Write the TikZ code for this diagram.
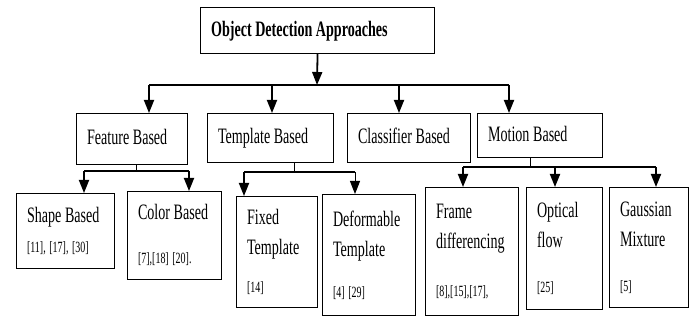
\documentclass[tikz,border=0pt]{standalone}
\usepackage{fontspec}
\setmainfont[FakeStretch=0.64]{Liberation Serif}
\usetikzlibrary{arrows.meta}
\newcommand{\refsz}{\fontsize{15.6}{30}\selectfont}
\newcommand{\boxfont}{\fontsize{22}{30}\selectfont}

\begin{document}
\begin{tikzpicture}
[every node/.style={inner ysep=0pt, inner xsep=10.5pt},
 box/.style={draw=black, line width=1.1pt, anchor=north west, align=flush left, font=\boxfont,
   execute at begin node={\spaceskip=3.6pt plus 1pt\relax}},
 oneline/.style={text height=15pt, text depth=4pt},
 arw/.style={line width=1.8pt, -{Triangle[width=10pt,length=13pt]}, color=black},
 bus/.style={line width=1.8pt, color=black},
 subbus/.style={line width=1.3pt, color=black},
 stem/.style={line width=0.8pt, color=black}]
\useasboundingbox (0pt,0pt) rectangle (697pt,-320pt);
% top level
\node (root) [box, oneline, text width=213pt, minimum height=46pt] at (200pt, -7pt) {\bfseries Object Detection Approaches};
% second level
\node (feat) [box, oneline, text width=90pt, minimum height=51pt] at (76pt, -113pt) {Feature Based};
\node (tmpl) [box, oneline, text width=105pt, minimum height=49pt] at (207pt, -113pt) {Template Based};
\node (clsf) [box, oneline, text width=102pt, minimum height=49pt] at (347pt, -113pt) {Classifier Based};
\node (motn) [box, oneline, text width=104pt, minimum height=44pt] at (477pt, -113pt) {Motion Based};
% third level
\node (shape) [box, text width=77pt, minimum height=75pt] at (16pt, -193pt) {Shape Based\\{\refsz [11], [17], [30]}};
\node (color) [box, text width=73pt, minimum height=88pt] at (127pt, -191pt) {Color Based\\[14pt]{\refsz [7],[18] [20].}};
\node (fixed) [box, text width=60pt, minimum height=111pt] at (236pt, -196pt) {Fixed\\Template\\[8pt]{\refsz [14]}};
\node (deform) [box, text width=72pt, minimum height=121pt] at (322pt, -194pt) {Deformable\\Template\\[11pt]{\refsz [4] [29]}};
\node (frame) [box, text width=72pt, minimum height=128pt] at (425pt, -187pt) {Frame\\differencing\\[18pt]{\refsz [8],[15],[17],}};
\node (optic) [box, text width=55pt, minimum height=122pt] at (526pt, -187pt) {Optical\\flow\\[15pt]{\refsz [25]}};
\node (gauss) [box, text width=58pt, minimum height=120pt] at (609pt, -187pt) {Gaussian\\Mixture\\[15pt]{\refsz [5]}};

% junctions
\coordinate (hub) at (317pt, -85pt);
\coordinate (b1) at (149pt, -85pt);
\coordinate (b2) at (272pt, -85pt);
\coordinate (b3) at (399pt, -85pt);
\coordinate (b4) at (509pt, -85pt);
\coordinate (fs) at (136pt, -171pt);
\coordinate (fa) at (84pt, -171pt);
\coordinate (fb) at (189pt, -171pt);
\coordinate (ts) at (294pt, -172pt);
\coordinate (ta) at (244pt, -172pt);
\coordinate (tb) at (355pt, -172pt);
\coordinate (ms) at (530pt, -167pt);
\coordinate (ma) at (463pt, -167pt);
\coordinate (mb) at (555pt, -167pt);
\coordinate (mc) at (656pt, -167pt);

\draw [arw] (root.south) to (hub);
\draw [bus] (b1) to (b4);
\draw [arw] (b1) to (b1 |- feat.north);
\draw [arw] (b2) to (b2 |- tmpl.north);
\draw [arw] (b3) to (b3 |- clsf.north);
\draw [arw] (b4) to (b4 |- motn.north);

\draw [stem] (feat.south -| fs) to (fs);
\draw [subbus] (fa) to (fb);
\draw [arw] (fa) to (fa |- shape.north);
\draw [arw] (fb) to (fb |- color.north);

\draw [stem] (tmpl.south -| ts) to (ts);
\draw [subbus] (ta) to (tb);
\draw [arw] (ta) to (ta |- fixed.north);
\draw [arw, line width=1pt] (tb) to (tb |- deform.north);

\draw [stem] (motn.south -| ms) to (ms);
\draw [bus] (ma) to (mc);
\draw [arw] (ma) to (ma |- frame.north);
\draw [arw] (mb) to (mb |- optic.north);
\draw [arw] (mc) to (mc |- gauss.north);

\end{tikzpicture}
\end{document}
